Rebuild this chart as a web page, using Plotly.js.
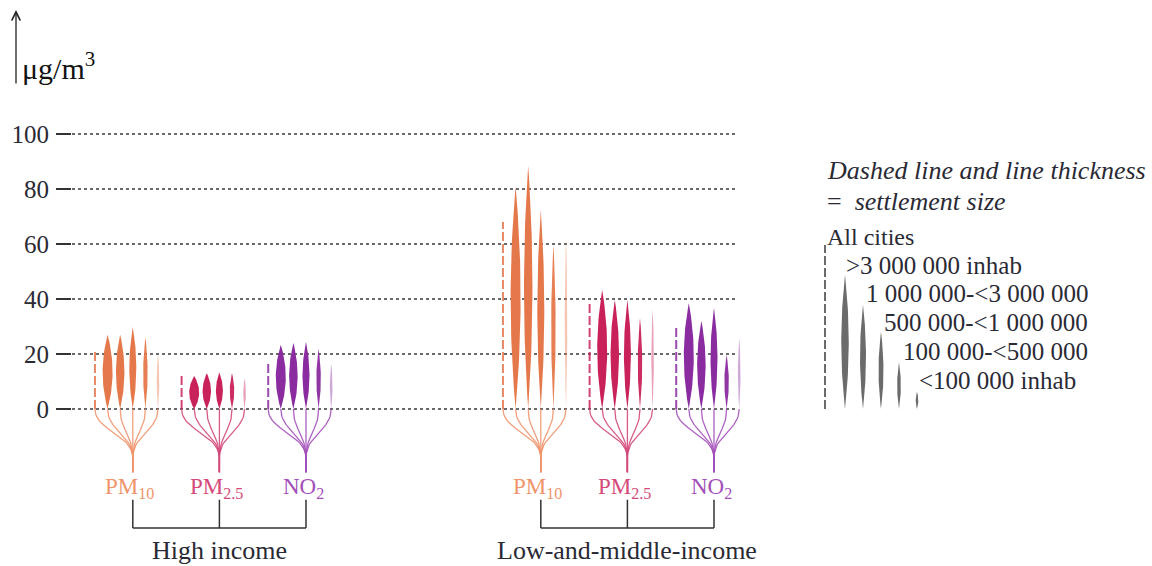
<!DOCTYPE html>
<html>
<head>
<meta charset="utf-8">
<script src="https://cdn.plot.ly/plotly-3.0.1.min.js"></script>
<style>html,body{margin:0;padding:0;background:#fff}#chart{width:1152px;height:566px}</style>
</head>
<body>
<div id="chart"></div>
<script>
// ---------------- data ----------------
const incomeGroups = ['High income', 'Low-and-middle-income'];
const pollutants = ['PM<sub>10</sub>', 'PM<sub>2.5</sub>', 'NO<sub>2</sub>'];
const sizeClasses = ['All cities', '>3 000 000 inhab', '1 000 000-<3 000 000', '500 000-<1 000 000', '100 000-<500 000', '<100 000 inhab'];
const yTicks = [0, 20, 40, 60, 80, 100];

// "All cities" values (dashed line) : PM10, PM2.5, NO2
const highAllCities = [21.8, 12.0, 17.5];
const lowMidAllCities = [68.0, 38.2, 29.8];
// per settlement size (largest -> smallest)
const highPM10 = [27.0, 27.0, 29.8, 26.0, 20.4];
const highPM25 = [12.0, 13.0, 13.3, 13.0, 11.2];
const highNO2 = [23.3, 24.0, 24.4, 21.8, 16.4];
const lowMidPM10 = [80.8, 88.4, 72.4, 59.6, 62.9];
const lowMidPM25 = [43.3, 39.6, 39.6, 33.0, 36.4];
const lowMidNO2 = [38.5, 32.0, 36.7, 19.6, 25.8];
// legend illustration
const legendAll = 59.6;
const legendSizes = [48.7, 37.8, 28.0, 17.0, 6.2];

// ---------------- styles ----------------
const W = 1152, H = 566, ML = 72;
const colors = ['#E5784A', '#C9225B', '#8A2B9F'];
const lightColors = ['#F0946C', '#D4487A', '#A450BA'];
const sizeWidth = [10, 8.5, 7, 4.5, 2.6];
const sizeOpacity = [1, 1, 1, 0.95, 0.42];
const serif = 'Liberation Serif, Times New Roman, serif';
const textColor = '#2a2a35';

const series = [
  [highAllCities, [highPM10, highPM25, highNO2]],
  [lowMidAllCities, [lowMidPM10, lowMidPM25, lowMidNO2]]
];

// pixel-based layout
const groupStart = [95, 503];
const pollStep = 86.6;
const cityStep = 12.6;

const py = p => 1 - p / H;          // pixel y -> paper
const yOf = p => (409 - p) / 2.75;  // pixel y -> data value

const traces = [];
const annotations = [];
const shapes = [];

function spindle(cx, w, top, color, opacity) {
  const n = 40, xs = [], ys = [];
  for (let i = 0; i <= n; i++) { const t = i / n; xs.push(cx + (w / 2) * 4 * t * (1 - t)); ys.push(top * t); }
  for (let i = n; i >= 0; i--) { const t = i / n; xs.push(cx - (w / 2) * 4 * t * (1 - t)); ys.push(top * t); }
  traces.push({ x: xs, y: ys, type: 'scatter', mode: 'lines', fill: 'toself', fillcolor: color, opacity: opacity,
    line: { width: 0, color: color }, hoverinfo: 'skip', showlegend: false });
}
function dashed(x, top, color, opacity) {
  traces.push({ x: [x, x], y: [0, top], type: 'scatter', mode: 'lines', opacity: opacity,
    line: { color: color, width: 2, dash: '9px,3px' }, hoverinfo: 'skip', showlegend: false });
}
function fan(xi, cx, color) {
  const xs = [], ys = [];
  const P = [[xi, 0], [xi, -8], [cx, -9], [cx, -18]];
  for (let i = 0; i <= 24; i++) {
    const t = i / 24, a = (1 - t) ** 3, b = 3 * (1 - t) ** 2 * t, c = 3 * (1 - t) * t * t, d = t ** 3;
    xs.push(a * P[0][0] + b * P[1][0] + c * P[2][0] + d * P[3][0]);
    ys.push(a * P[0][1] + b * P[1][1] + c * P[2][1] + d * P[3][1]);
  }
  xs.push(cx); ys.push(-23);
  traces.push({ x: xs, y: ys, type: 'scatter', mode: 'lines', line: { color: color, width: 1.3 },
    opacity: 0.9, hoverinfo: 'skip', showlegend: false });
}

series.forEach((grp, g) => {
  const [allVals, sizeVals] = grp;
  const centers = [];
  sizeVals.forEach((vals, p) => {
    const x0 = groupStart[g] + p * pollStep;
    const cx = x0 + 3 * cityStep;
    centers.push(cx);
    fan(x0, cx, lightColors[p]);
    vals.forEach((v, k) => fan(x0 + (k + 1) * cityStep, cx, lightColors[p]));
    dashed(x0, allVals[p], colors[p], 0.85);
    vals.forEach((v, k) => spindle(x0 + (k + 1) * cityStep, sizeWidth[k], v, colors[p], sizeOpacity[k]));
    annotations.push({ x: cx - 3, y: -28.6, xref: 'x', yref: 'y', text: pollutants[p], showarrow: false,
      xanchor: 'center', yanchor: 'middle', font: { family: serif, size: 23, color: lightColors[p] } });
  });
  traces.push({ x: [centers[0], centers[0], null, centers[1], centers[1], null, centers[2], centers[2], null, centers[0], centers[2]],
    y: [-33, -43.3, null, -33, -43.3, null, -33, -43.3, null, -43.3, -43.3],
    type: 'scatter', mode: 'lines', line: { color: '#333', width: 1.5 }, hoverinfo: 'skip', showlegend: false });
  annotations.push({ x: centers[1], y: 0, xref: 'x', yref: 'paper', text: incomeGroups[g], showarrow: false,
    xanchor: 'center', yanchor: 'bottom', borderpad: 0, font: { family: serif, size: 26, color: textColor } });
});

// gridlines
yTicks.forEach(v => shapes.push({ type: 'line', xref: 'x', yref: 'y', x0: 72, x1: 738, y0: v, y1: v,
  line: { color: '#3a3a3a', width: 1.5, dash: 'dot' }, layer: 'below' }));

// legend
const legGray = '#6b6b6b';
const legW = [7.5, 6, 5, 3.7, 2.6];
dashed(825, legendAll, legGray, 1);
legendSizes.forEach((v, k) => spindle(845 + k * 18, legW[k], v, legGray, 1));
annotations.push({ x: 825, y: py(171), xref: 'x', yref: 'paper', text: '<i>Dashed line and line thickness</i>', showarrow: false,
  xanchor: 'left', yanchor: 'middle', font: { family: serif, size: 26, color: textColor } });
annotations.push({ x: 825, y: py(201), xref: 'x', yref: 'paper', text: '=  <i>settlement size</i>', showarrow: false,
  xanchor: 'left', yanchor: 'middle', font: { family: serif, size: 26, color: textColor } });
const legX = [825, 844, 864, 882, 901, 917];
const legY = [237, 265, 293, 322, 351, 380];
sizeClasses.forEach((s, i) => annotations.push({ x: legX[i], y: py(legY[i]), xref: 'x', yref: 'paper', text: s, showarrow: false,
  xanchor: 'left', yanchor: 'middle', font: { family: serif, size: i === 0 ? 24 : 25, color: textColor } }));

// y axis title with arrow
annotations.push({ x: (16 - ML) / (W - ML), y: py(10), xref: 'paper', yref: 'paper', ax: 0, ay: 75, axref: 'pixel', ayref: 'pixel',
  showarrow: true, arrowhead: 5, arrowsize: 1.3, arrowwidth: 1.3, arrowcolor: '#222', text: '' });
annotations.push({ x: (20 - ML) / (W - ML), y: py(66), xref: 'paper', yref: 'paper', text: 'μg/m<sup>3</sup>', showarrow: false,
  xanchor: 'left', yanchor: 'middle', font: { family: serif, size: 30, color: '#111' } });

const layout = {
  width: W, height: H,
  margin: { l: ML, r: 0, t: 0, b: 0, pad: 0 },
  paper_bgcolor: '#fff', plot_bgcolor: '#fff',
  showlegend: false,
  xaxis: { range: [ML, W], visible: false, fixedrange: true },
  yaxis: { range: [yOf(H), yOf(0)], tickvals: yTicks, ticktext: yTicks.map(String), showgrid: false, zeroline: false,
    showline: false, ticks: 'outside', ticklen: 15, tickwidth: 2, tickcolor: '#333', ticklabelstandoff: 2,
    tickfont: { family: serif, size: 25, color: textColor }, fixedrange: true },
  shapes: shapes,
  annotations: annotations
};
Plotly.newPlot('chart', traces, layout, { displayModeBar: false, staticPlot: true });
</script>
</body>
</html>
